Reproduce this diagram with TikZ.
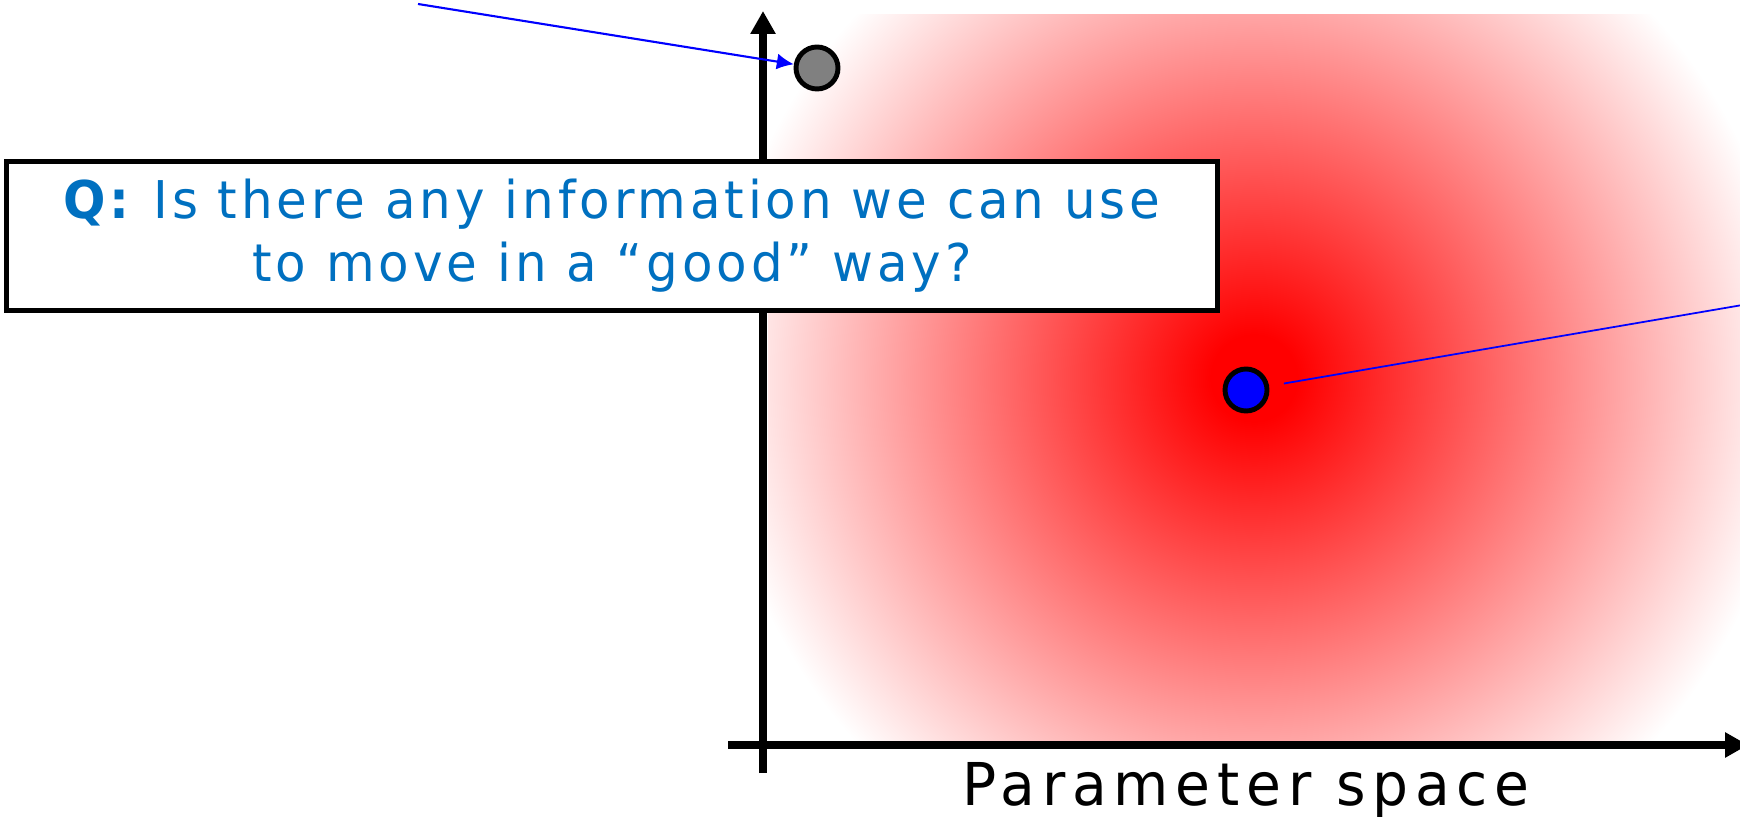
\documentclass[tikz,border=0pt]{standalone}
\usepackage{fontspec}
\setmainfont{DejaVu Sans}
\newfontfamily\questionfont{DejaVu Sans}[FakeStretch=0.96, LetterSpace=7.5]
\newfontfamily\axisfont{DejaVu Sans}[FakeStretch=0.96, LetterSpace=11.5]
\usetikzlibrary{arrows.meta,positioning}
\definecolor{qblue}{RGB}{0, 112, 192}
\definecolor{dotgray}{RGB}{128, 128, 128}
\pgfdeclareradialshading{costblob}{\pgfpoint{0bp}{0bp}}{color(0bp)=(red); color(2bp)=(red); color(25bp)=(white); color(50bp)=(white)}
\tikzset{
 axisline/.style={
 line width=2.3pt,
 -{Triangle[length=2.3mm, width=2.4mm]}
 },
 paramdot/.style={
 circle,
 draw=black,
 line width=1.4pt,
 minimum size=4.2mm,
 inner sep=0pt
 },
 questionbox/.style={
 rectangle,
 draw=black,
 fill=white,
 line width=1.15pt,
 align=center,
 minimum width=121.1mm,
 minimum height=14.9mm,
 text=qblue,
 font=\questionfont\fontsize{14.8}{17.9}\selectfont
 },
 axislabel/.style={
 anchor=base,
 inner sep=0pt,
 font=\axisfont\fontsize{16.8}{20}\selectfont
 },
 pointer/.style={-{Latex[length=1.7mm, width=1.6mm]}, line width=0.6pt, draw=blue},
 guide/.style={line width=0.5pt, draw=blue}
}

\begin{document}
\begin{tikzpicture}[x=0.1mm, y=-0.1mm]
	\useasboundingbox (0,0) rectangle (1740,817);

	\begin{scope}
		\clip (768,15) rectangle (1740,745);
		\shade[shading=costblob] (1254,378) circle[radius=54mm];
	\end{scope}

	\coordinate (ybot) at (763,773);
	\coordinate (ytop) at (763,11);
	\coordinate (xleft) at (728,745);
	\coordinate (xright) at (1748,745);
	\draw[axisline] (ybot) -- (ytop);
	\draw[axisline] (xleft) -- (xright);

	\node[axislabel] (xlabel) at (1246,805) {Parameter space};

	\node[questionbox] (question) at (612,236) {\textbf{Q:} Is there any information we can use\\to move in a “good” way?};

	\node[paramdot, fill=dotgray] (start) at (817,68) {};
	\node[paramdot, fill=blue] (best) at (1246,390) {};

	\coordinate (startnote) at (418,4);
	\coordinate (bestnote) at (1760,302);
	\draw[pointer] (startnote) -- (start);
	\draw[guide, shorten <=1.5mm] (best) -- (bestnote);
\end{tikzpicture}
\end{document}
